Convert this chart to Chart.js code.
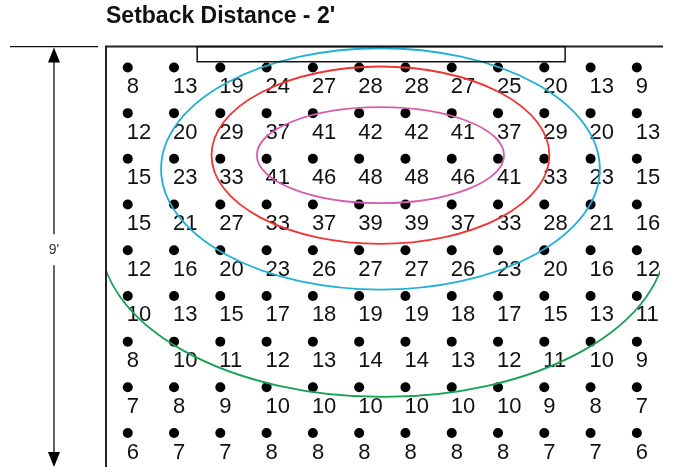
<!DOCTYPE html>
<html>
<head>
<meta charset="utf-8">
<script src="https://cdn.jsdelivr.net/npm/chart.js@4/dist/chart.umd.min.js"></script>
<style>
  body { margin: 0; background: #fff; }
  canvas { display: block; }
</style>
</head>
<body>
<canvas id="grid" width="675" height="467"></canvas>
<script>
// grid positions in feet
const colFeet = [0.5, 1.5, 2.5, 3.5, 4.5, 5.5, 6.5, 7.5, 8.5, 9.5, 10.5, 11.5];
const rowFeet = [0.5, 1.5, 2.5, 3.5, 4.5, 5.5, 6.5, 7.5, 8.5];

// light levels, one list per row (top to bottom)
const row1 = [8, 13, 19, 24, 27, 28, 28, 27, 25, 20, 13, 9];
const row2 = [12, 20, 29, 37, 41, 42, 42, 41, 37, 29, 20, 13];
const row3 = [15, 23, 33, 41, 46, 48, 48, 46, 41, 33, 23, 15];
const row4 = [15, 21, 27, 33, 37, 39, 39, 37, 33, 28, 21, 16];
const row5 = [12, 16, 20, 23, 26, 27, 27, 26, 23, 20, 16, 12];
const row6 = [10, 13, 15, 17, 18, 19, 19, 18, 17, 15, 13, 11];
const row7 = [8, 10, 11, 12, 13, 14, 14, 13, 12, 11, 10, 9];
const row8 = [7, 8, 9, 10, 10, 10, 10, 10, 10, 9, 8, 7];
const row9 = [6, 7, 7, 8, 8, 8, 8, 8, 8, 7, 7, 6];
const rows = [row1, row2, row3, row4, row5, row6, row7, row8, row9];

// contour ellipses (feet): pink, red, cyan, green
const contourCx = [5.96, 5.96, 5.96, 6.02];
const contourCy = [2.42, 2.42, 2.72, 4.23];
const contourRx = [2.67, 3.65, 4.74, 6.12];
const contourRy = [1.05, 1.94, 2.64, 3.48];
const contourHalf = [false, false, false, true];
const contourColors = ['#d65cae', '#f03535', '#1cb0d4', '#16a052'];

// fixture outline (feet) and the span shown on the left
const fixtureX = [2.0, 9.95];
const fixtureDepth = 0.375;
const spanFeet = 9;
const spanLabel = "9'";
const titleText = "Setback Distance - 2'";

var puntos = [];
for (var r = 0; r < rowFeet.length; r++) {
    for (var c = 0; c < colFeet.length; c++) {
        puntos.push({x: colFeet[c], y: rowFeet[r], v: rows[r][c]});
    }
}

const numeros = {
    id: 'numeros',
    afterDatasetsDraw(chart) {
        var ctx = chart.ctx;
        var meta = chart.getDatasetMeta(0);
        ctx.save();
        ctx.fillStyle = '#111';
        ctx.font = '22px "Liberation Sans", Arial, sans-serif';
        ctx.textAlign = 'left';
        ctx.textBaseline = 'alphabetic';
        meta.data.forEach(function(el, i) {
            ctx.fillText(String(puntos[i].v), el.x - 1, el.y + 25.5);
        });
        ctx.restore();
    }
};

const contornos = {
    id: 'contornos',
    afterDatasetsDraw(chart) {
        var ctx = chart.ctx;
        var a = chart.chartArea;
        var sx = chart.scales.x, sy = chart.scales.y;
        ctx.save();
        ctx.beginPath();
        ctx.rect(a.left, a.top, a.right - a.left, a.bottom - a.top);
        ctx.clip();
        for (var i = 0; i < contourCx.length; i++) {
            var cx = sx.getPixelForValue(contourCx[i]);
            var cy = sy.getPixelForValue(contourCy[i]);
            var rx = Math.abs(sx.getPixelForValue(contourCx[i] + contourRx[i]) - cx);
            var ry = Math.abs(sy.getPixelForValue(contourCy[i] + contourRy[i]) - cy);
            ctx.beginPath();
            ctx.ellipse(cx, cy, rx, ry, 0, 0, contourHalf[i] ? Math.PI : Math.PI * 2);
            ctx.strokeStyle = contourColors[i];
            ctx.lineWidth = 1.8;
            ctx.stroke();
        }
        ctx.restore();
    }
};

const marco = {
    id: 'marco',
    afterDraw(chart) {
        var ctx = chart.ctx;
        var a = chart.chartArea;
        var sx = chart.scales.x, sy = chart.scales.y;
        ctx.save();
        // frame
        ctx.strokeStyle = '#222';
        ctx.lineWidth = 2;
        ctx.beginPath();
        ctx.moveTo(a.left, chart.height);
        ctx.lineTo(a.left, a.top);
        ctx.lineTo(a.right + 3, a.top);
        ctx.stroke();
        // fixture
        var fx0 = sx.getPixelForValue(fixtureX[0]);
        var fx1 = sx.getPixelForValue(fixtureX[1]);
        var fy1 = sy.getPixelForValue(fixtureDepth);
        ctx.lineWidth = 1.5;
        ctx.strokeStyle = '#111';
        ctx.strokeRect(fx0, a.top, fx1 - fx0, fy1 - a.top);
        // dimension
        var dx = a.left - 52;
        var top = a.top, bot = chart.height;
        var mid = sy.getPixelForValue(spanFeet / 2);
        ctx.lineWidth = 1.3;
        ctx.beginPath();
        ctx.moveTo(10, top); ctx.lineTo(a.left - 8, top);
        ctx.moveTo(dx, top + 14); ctx.lineTo(dx, mid - 16);
        ctx.moveTo(dx, mid + 15); ctx.lineTo(dx, bot - 14);
        ctx.stroke();
        ctx.fillStyle = '#000';
        ctx.beginPath();
        ctx.moveTo(dx, top + 1); ctx.lineTo(dx - 6, top + 16); ctx.lineTo(dx + 6, top + 16); ctx.closePath();
        ctx.fill();
        ctx.beginPath();
        ctx.moveTo(dx, bot); ctx.lineTo(dx - 6, bot - 15); ctx.lineTo(dx + 6, bot - 15); ctx.closePath();
        ctx.fill();
        ctx.fillStyle = '#333';
        ctx.font = '14px "Liberation Sans", Arial, sans-serif';
        ctx.textAlign = 'center';
        ctx.textBaseline = 'middle';
        ctx.fillText(spanLabel, dx, mid);
        ctx.restore();
    }
};

new Chart(document.getElementById('grid'), {
    type: 'scatter',
    data: {
        datasets: [{
            data: puntos,
            pointRadius: 5,
            pointHoverRadius: 5,
            pointBackgroundColor: '#000',
            pointBorderWidth: 0,
            clip: false
        }]
    },
    options: {
        responsive: false,
        animation: false,
        devicePixelRatio: 1,
        layout: {padding: {left: 106, right: 15, top: 0, bottom: 0}},
        plugins: {
            legend: {display: false},
            tooltip: {enabled: false},
            title: {
                display: true,
                text: titleText,
                align: 'start',
                color: '#111',
                font: {family: '"Liberation Sans", Arial, sans-serif', size: 23, weight: 'bold'},
                padding: {top: 3, bottom: 16}
            }
        },
        scales: {
            x: {type: 'linear', min: 0.03, max: 12.0, display: false},
            y: {type: 'linear', reverse: true, min: 0.044, max: 9.134, display: false}
        }
    },
    plugins: [numeros, contornos, marco]
});
</script>
</body>
</html>
